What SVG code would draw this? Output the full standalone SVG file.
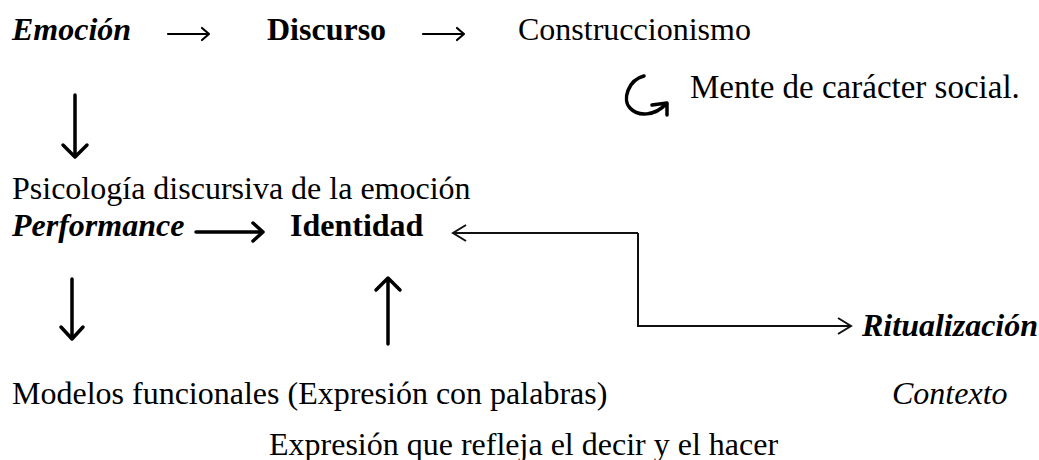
<svg xmlns="http://www.w3.org/2000/svg" width="1039" height="460" viewBox="0 0 1039 460">
<style>
.t{font-family:"Liberation Serif","Times New Roman",serif;font-size:32px;fill:#000}
.b{font-weight:bold}
.i{font-style:italic}
.thin{fill:none;stroke:#000;stroke-width:2.2;stroke-linecap:round;stroke-linejoin:round}
.thick{fill:none;stroke:#000;stroke-width:3.5;stroke-linecap:round;stroke-linejoin:round}
.conn{fill:none;stroke:#111;stroke-width:2;stroke-linejoin:miter}
</style>
<rect width="1039" height="460" fill="#fff"/>
<g id="n-emocion"><text class="t b i" x="12" y="40">Emoción</text></g>
<g id="n-discurso"><text class="t b" x="267" y="40">Discurso</text></g>
<g id="n-construccionismo"><text class="t" x="518" y="40">Construccionismo</text></g>
<g id="n-mente"><text class="t" x="690" y="98" style="font-size:33px">Mente de carácter social.</text></g>
<g id="n-psicologia"><text class="t" x="12" y="199">Psicología discursiva de la emoción</text></g>
<g id="n-performance"><text class="t b i" x="12" y="236">Performance</text></g>
<g id="n-identidad"><text class="t b" x="290" y="236">Identidad</text></g>
<g id="n-ritualizacion"><text class="t b i" x="862" y="336">Ritualización</text></g>
<g id="n-modelos"><text class="t" x="12" y="404">Modelos funcionales (Expresión con palabras)</text></g>
<g id="n-contexto"><text class="t i" x="892" y="404">Contexto</text></g>
<g id="n-expresion"><text class="t" x="269" y="455">Expresión que refleja el decir y el hacer</text></g>
<g id="connectors">
  <path class="thin" d="M168 34 H209 M202 28 L209 34 L202 40"/>
  <path class="thin" d="M423 34 H464 M457 28 L464 34 L457 40"/>
  <path class="thick" d="M75 95 V156 M63 145 L75 157 L87 145"/>
  <path class="thick" d="M196 232 H262 M253 223 L263 232 L253 241"/>
  <path class="thick" d="M72 279 V338 M61 327 L72 339 L83 327"/>
  <path class="thick" d="M388 344 V279 M376 290 L388 278 L400 290"/>
  <path class="thick" d="M644 76 C628 80 622 100 630 108 C638 117 655 116 666 104 M652 105 L667 103 L667 115"/>
  <path class="conn" d="M638 233 H454 M466 225 L453 233 L466 241"/>
  <path class="conn" d="M638 233 V326 H850 M838 318 L851 326 L838 334"/>
</g>
</svg>
